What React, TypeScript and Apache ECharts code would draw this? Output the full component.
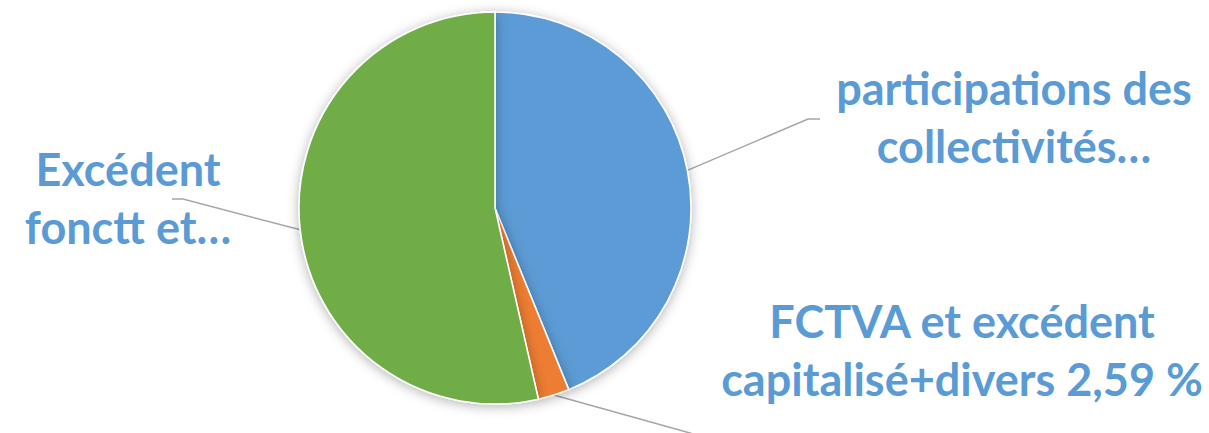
import React, { useEffect, useRef } from "react";
import * as echarts from "echarts";

const categories = [
  "participations des collectivités",
  "FCTVA et excédent capitalisé+divers",
  "Excédent fonctt et",
];
const values = [43.86, 2.59, 53.55];
const labelTexts = [
  "participations des\ncollectivités…",
  "FCTVA et excédent\ncapitalisé+divers 2,59 %",
  "Excédent\nfonctt et…",
];
const colors = ["#5b9bd5", "#ed7d31", "#70ad47"];

// label layout (centre of text block, line elbow, line end)
const labelPos = [
  { x: 1014, y: 117, elbow: [808, 119], end: [820, 119] },
  { x: 962, y: 350, elbow: [690, 433], end: [705, 438] },
  { x: 128, y: 198, elbow: [183, 199], end: [172, 199] },
];

export default function App() {
  const ref = useRef<HTMLDivElement>(null);
  useEffect(() => {
    if (!ref.current) return;
    const chart = echarts.init(ref.current, undefined, { renderer: "svg" });
    chart.setOption({
      animation: false,
      backgroundColor: "#ffffff",
      series: [
        {
          type: "pie",
          center: [495, 208],
          radius: [0, 196],
          startAngle: 90,
          clockwise: true,
          avoidLabelOverlap: false,
          data: categories.map((name, i) => ({
            name,
            value: values[i],
            itemStyle: { color: colors[i] },
          })),
          itemStyle: {
            borderColor: "#ffffff",
            borderWidth: 1.5,
            shadowBlur: 12,
            shadowColor: "rgba(0,0,0,0.3)",
            shadowOffsetY: 2,
          },
          label: {
            show: true,
            position: "outside",
            formatter: (p: any) => labelTexts[p.dataIndex],
            color: "#5b9bd5",
            fontFamily: "Lato",
            fontWeight: "bold",
            fontSize: 45,
            lineHeight: 58,
            align: "center",
          },
          labelLine: {
            show: true,
            length: 15,
            length2: 15,
            lineStyle: { color: "#a6a6a6", width: 1.5 },
          },
          labelLayout: (params: any) => {
            const lp = labelPos[params.dataIndex];
            const start = params.labelLinePoints
              ? params.labelLinePoints[0]
              : [0, 0];
            return {
              x: lp.x,
              y: lp.y,
              align: "center",
              verticalAlign: "middle",
              labelLinePoints: [start, lp.elbow, lp.end],
            };
          },
        },
      ],
    });
    return () => chart.dispose();
  }, []);
  return (
    <div
      ref={ref}
      style={{ position: "fixed", left: 0, top: 0, width: 1209, height: 433 }}
    />
  );
}
